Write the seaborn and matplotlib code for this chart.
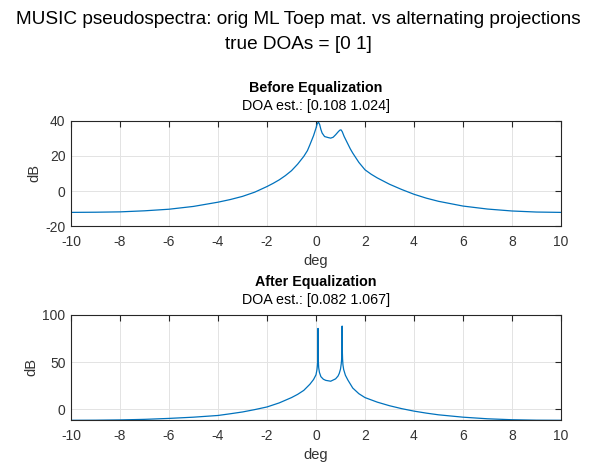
import matplotlib
matplotlib.use("Agg")
import matplotlib.pyplot as plt
import seaborn as sns
import pandas as pd

# ---- data ----
deg_before = [-10, -9, -8, -7, -6, -5, -4, -3.5, -3, -2.5, -2, -1.75, -1.5, -1.25, -1,
              -0.75, -0.5, -0.35, -0.25, -0.1, 0, 0.05, 0.1, 0.15, 0.2, 0.25, 0.35,
              0.5, 0.6, 0.7, 0.8, 0.9, 0.97, 1.02, 1.07, 1.15, 1.25, 1.4, 1.5, 1.75,
              2, 2.25, 2.5, 3, 3.5, 4, 4.5, 5, 6, 7, 8, 9, 10]
db_before = [-12.1, -12.0, -11.8, -11.2, -10.3, -8.7, -6.3, -4.8, -3.0, -0.6, 2.6,
             4.4, 6.4, 8.8, 11.6, 15.3, 19.7, 23.0, 26.3, 31.5, 35.8, 38.3, 39.2, 37.8,
             35.0, 33.0, 31.0, 30.4, 30.1, 30.6, 32.0, 33.6, 34.6, 34.8, 33.8, 31.0,
             28.2, 24.0, 21.6, 16.3, 12.1, 9.6, 7.5, 3.9, 0.9, -1.8, -4.0, -5.8, -8.5,
             -10.2, -11.3, -11.9, -12.1]

deg_after = [-10, -9, -8, -7, -6, -5, -4, -3.5, -3, -2.5, -2, -1.5, -1, -0.75, -0.5,
             -0.25, -0.1, 0, 0.04, 0.06, 0.07, 0.076, 0.082, 0.088, 0.095, 0.11, 0.14,
             0.2, 0.3, 0.4, 0.6, 0.8, 0.9, 0.95, 1.0, 1.03, 1.05, 1.06, 1.067, 1.074,
             1.085, 1.1, 1.13, 1.2, 1.3, 1.5, 1.75, 2, 2.5, 3, 3.5, 4, 4.5, 5, 6, 7,
             8, 9, 10]
db_after = [-11.6, -11.5, -11.2, -10.6, -9.6, -8.3, -6.5, -4.7, -2.8, -0.3, 2.5, 6.8,
            12.4, 15.8, 20.0, 26.5, 31.5, 36.5, 42.0, 47.0, 53.0, 60.0, 85.5, 60.0,
            51.0, 44.0, 39.0, 34.5, 31.8, 30.6, 29.7, 32.2, 35.2, 38.0, 42.5, 48.0,
            54.0, 62.0, 88.0, 62.0, 53.0, 47.0, 42.0, 36.0, 31.0, 22.5, 16.5, 12.4,
            7.6, 3.8, 0.7, -1.9, -4.0, -5.8, -8.3, -10.0, -11.0, -11.5, -11.6]

suptitle_lines = ["MUSIC pseudospectra: orig ML Toep mat. vs alternating projections",
                  "true DOAs = [0 1]"]
titles = ["Before Equalization", "After Equalization"]
subtitles = ["DOA est.: [0.108 1.024]", "DOA est.: [0.082 1.067]"]
xticks = [-10, -8, -6, -4, -2, 0, 2, 4, 6, 8, 10]
yticks_before = [-20, 0, 20, 40]
yticks_after = [0, 50, 100]

sns.set_theme(style="white")
plt.rcParams['font.family'] = ['Liberation Sans', 'DejaVu Sans']

line_color = "#0072BD"
axis_color = "#262626"
text_color = "#333333"

fig = plt.figure(figsize=(5.96, 4.62), dpi=100)
fig.patch.set_facecolor("white")

ax1 = fig.add_axes([71/596, 1 - 226.3/462, 490/596, 105.6/462])
ax2 = fig.add_axes([71/596, 1 - 420.3/462, 490/596, 105.6/462])

df1 = pd.DataFrame({"deg": deg_before, "dB": db_before})
df2 = pd.DataFrame({"deg": deg_after, "dB": db_after})

sns.lineplot(data=df1, x="deg", y="dB", ax=ax1, color=line_color, linewidth=0.9, sort=False)
sns.lineplot(data=df2, x="deg", y="dB", ax=ax2, color=line_color, linewidth=0.9, sort=False)

for ax, yt, ylim, t, st in [(ax1, yticks_before, (-20, 40), titles[0], subtitles[0]),
                            (ax2, yticks_after, (-11.6, 100), titles[1], subtitles[1])]:
    ax.set_xlim(-10, 10)
    ax.set_ylim(*ylim)
    ax.set_xticks(xticks)
    ax.set_xticklabels([str(v) for v in xticks])
    ax.set_yticks(yt)
    ax.set_yticklabels([str(v) for v in yt])
    ax.grid(True, color="#e3e3e3", linewidth=0.7)
    ax.set_axisbelow(True)
    for s in ax.spines.values():
        s.set_visible(True)
        s.set_color(axis_color)
        s.set_linewidth(0.8)
    ax.tick_params(axis="x", pad=6)
    ax.tick_params(axis="y", pad=4)
    ax.tick_params(axis="both", direction="in", length=4, width=0.8, color=axis_color,
                   labelsize=10, labelcolor=text_color, top=True, right=True)
    ax.set_xlabel("deg", fontsize=10.5, color=text_color, labelpad=4)
    ax.set_ylabel("dB", fontsize=10.5, color=text_color, labelpad=3)
    ax.text(0.5, 1.0 + 33/105.6, t, transform=ax.transAxes, ha="center", va="center",
            fontsize=10.3, fontweight="bold", color="black")
    ax.text(0.5, 1.0 + 15/105.6, st, transform=ax.transAxes, ha="center", va="center",
            fontsize=10.3, color="black")

fig.text(0.5, 1 - 19/462, suptitle_lines[0], ha="center", va="center", fontsize=13.7, color="black")
fig.text(0.5, 1 - 44.5/462, suptitle_lines[1], ha="center", va="center", fontsize=13.7, color="black")

fig.savefig("out.png", dpi=100, facecolor="white")
